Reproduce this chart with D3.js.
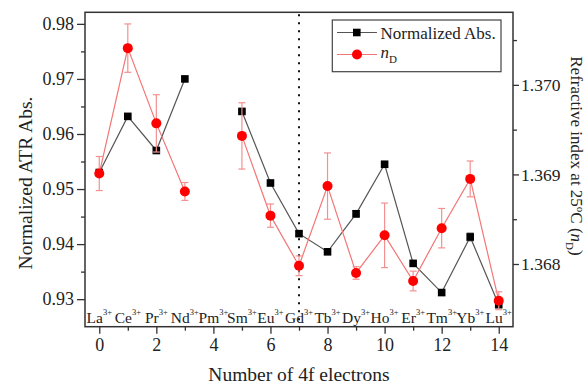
<!DOCTYPE html>
<html>
<head>
<meta charset="utf-8">
<script src="https://cdn.jsdelivr.net/npm/d3@7/dist/d3.min.js"></script>
<style>
  html, body { margin: 0; padding: 0; background: #fff; }
  svg { display: block; font-family: "Liberation Serif", "Times New Roman", serif; }
</style>
</head>
<body>
<svg id="chart" width="588" height="385"></svg>
<script>
// Lanthanide ions and their number of 4f electrons
const ions = ["La", "Ce", "Pr", "Nd", "Pm", "Sm", "Eu", "Gd", "Tb", "Dy", "Ho", "Er", "Tm", "Yb", "Lu"];
const electrons = [0, 1, 2, 3, 4, 5, 6, 7, 8, 9, 10, 11, 12, 13, 14];

// Normalized ATR absorbance (left axis); Pm has no measurement
const absValues = [0.9530, 0.9632, 0.9570, 0.9700, null, 0.9641, 0.9511, 0.9419, 0.9386, 0.9455, 0.9545, 0.9365, 0.9312, 0.9413, 0.9290];
const absErrors = [0, 0.0003, 0.0003, 0, null, 0.0003, 0, 0.0004, 0, 0.0006, 0.0005, 0, 0, 0.0007, 0];

// Refractive index n_D at 25 °C (right axis)
const ndValues = [1.36901, 1.37041, 1.36957, 1.36881, null, 1.36943, 1.36854, 1.36798, 1.36887, 1.36790, 1.36832, 1.36781, 1.36840, 1.36895, 1.36759];
const ndErrors = [0.00019, 0.00027, 0.00032, 0.00010, null, 0.00037, 0.00013, 0.00011, 0.00037, 0.00007, 0.00036, 0.00011, 0.00022, 0.00020, 0.00010];

// Tick values
const xTicks = [0, 2, 4, 6, 8, 10, 12, 14];
const xMinorTicks = [1, 3, 5, 7, 9, 11, 13];
const leftTicks = [0.93, 0.94, 0.95, 0.96, 0.97, 0.98];
const leftMinorTicks = [0.935, 0.945, 0.955, 0.965, 0.975];
const rightTicks = [1.368, 1.369, 1.370];
const rightMinorTicks = [1.3685, 1.3695, 1.3705];

const svg = d3.select("#chart");
const plot = { left: 85, right: 513, top: 12.3, bottom: 326.7 };

const x = d3.scaleLinear().domain([-0.5, 14.5]).range([plot.left, plot.right]);
const yL = d3.scaleLinear().domain([0.925, 0.9821]).range([plot.bottom, plot.top]);
const yR = d3.scaleLinear().domain([1.3673, 1.37081]).range([plot.bottom, plot.top]);

const axisColor = "#333";
const blackLine = "#555";
const redLine = "#f47676";
const redBar = "#f39090";

// Frame
svg.append("rect")
  .attr("x", plot.left).attr("y", plot.top)
  .attr("width", plot.right - plot.left).attr("height", plot.bottom - plot.top)
  .attr("fill", "none").attr("stroke", axisColor).attr("stroke-width", 1.5);

function styleAxis(g, size) {
  g.attr("font-family", null);
  g.select(".domain").remove();
  g.selectAll(".tick line").attr("stroke", axisColor).attr("stroke-width", 1.3);
  g.selectAll(".tick text").attr("fill", "#222").attr("font-size", size);
}

// Bottom axis
svg.append("g").attr("transform", `translate(0,${plot.bottom})`)
  .call(d3.axisBottom(x).tickValues(xMinorTicks).tickSize(4).tickFormat(""))
  .call(g => styleAxis(g, 18));
svg.append("g").attr("transform", `translate(0,${plot.bottom})`)
  .call(d3.axisBottom(x).tickValues(xTicks).tickSize(7).tickPadding(5).tickFormat(d3.format("d")))
  .call(g => styleAxis(g, 18));

// Left axis
svg.append("g").attr("transform", `translate(${plot.left},0)`)
  .call(d3.axisLeft(yL).tickValues(leftMinorTicks).tickSize(4).tickFormat(""))
  .call(g => styleAxis(g, 18));
svg.append("g").attr("transform", `translate(${plot.left},0)`)
  .call(d3.axisLeft(yL).tickValues(leftTicks).tickSize(8).tickPadding(3).tickFormat(d3.format(".2f")))
  .call(g => styleAxis(g, 18));

// Right axis
svg.append("g").attr("transform", `translate(${plot.right},0)`)
  .call(d3.axisRight(yR).tickValues(rightMinorTicks).tickSize(4).tickFormat(""))
  .call(g => styleAxis(g, 18));
svg.append("g").attr("transform", `translate(${plot.right},0)`)
  .call(d3.axisRight(yR).tickValues(rightTicks).tickSize(6).tickPadding(2).tickFormat(d3.format(".3f")))
  .call(g => styleAxis(g, 17.5));

// Dotted separator at Gd (half-filled 4f shell)
svg.append("line")
  .attr("x1", x(7)).attr("x2", x(7))
  .attr("y1", plot.top + 2).attr("y2", plot.bottom)
  .attr("stroke", "#111").attr("stroke-width", 2).attr("stroke-dasharray", "2,6");

// Ion labels along the bottom of the plot
const ionLabels = svg.append("g").attr("font-size", 15.5).attr("fill", "#222");
ions.forEach((ion, i) => {
  const t = ionLabels.append("text")
    .attr("x", x(electrons[i])).attr("y", plot.bottom - 4)
    .attr("text-anchor", "middle");
  t.append("tspan").text(ion);
  t.append("tspan").attr("font-size", 8.5).attr("dy", -8).text("3+");
});

const absData = electrons.map((e, i) => ({ e, v: absValues[i], err: absErrors[i] }));
const ndData = electrons.map((e, i) => ({ e, v: ndValues[i], err: ndErrors[i] }));

function drawErrorBars(data, y, color) {
  const g = svg.append("g").attr("stroke", color).attr("stroke-width", 1.2);
  data.filter(d => d.v != null && d.err > 0).forEach(d => {
    const cx = x(d.e), top = y(d.v + d.err), bot = y(d.v - d.err);
    g.append("line").attr("x1", cx).attr("x2", cx).attr("y1", top).attr("y2", bot);
    g.append("line").attr("x1", cx - 3.5).attr("x2", cx + 3.5).attr("y1", top).attr("y2", top);
    g.append("line").attr("x1", cx - 3.5).attr("x2", cx + 3.5).attr("y1", bot).attr("y2", bot);
  });
}

// Normalized absorbance series
const lineAbs = d3.line().defined(d => d.v != null).x(d => x(d.e)).y(d => yL(d.v));
svg.append("path").datum(absData).attr("d", lineAbs)
  .attr("fill", "none").attr("stroke", blackLine).attr("stroke-width", 1.2);
drawErrorBars(absData, yL, "#666");
svg.append("g").selectAll("rect").data(absData.filter(d => d.v != null)).join("rect")
  .attr("x", d => x(d.e) - 3.8).attr("y", d => yL(d.v) - 3.8)
  .attr("width", 7.6).attr("height", 7.6).attr("fill", "#000");

// Refractive index series
const lineNd = d3.line().defined(d => d.v != null).x(d => x(d.e)).y(d => yR(d.v));
svg.append("path").datum(ndData).attr("d", lineNd)
  .attr("fill", "none").attr("stroke", redLine).attr("stroke-width", 1.2);
drawErrorBars(ndData, yR, redBar);
svg.append("g").selectAll("circle").data(ndData.filter(d => d.v != null)).join("circle")
  .attr("cx", d => x(d.e)).attr("cy", d => yR(d.v)).attr("r", 5)
  .attr("fill", "#ff0000");

// Legend
const legend = svg.append("g");
legend.append("rect").attr("x", 332.3).attr("y", 20).attr("width", 168.7).attr("height", 51.7)
  .attr("fill", "#fff").attr("stroke", "#444").attr("stroke-width", 1.2);
legend.append("line").attr("x1", 337).attr("x2", 377).attr("y1", 32.5).attr("y2", 32.5)
  .attr("stroke", blackLine).attr("stroke-width", 1.2);
legend.append("rect").attr("x", 353).attr("y", 28.7).attr("width", 7.6).attr("height", 7.6).attr("fill", "#000");
legend.append("text").attr("x", 380.5).attr("y", 38.5).attr("font-size", 17).attr("fill", "#222")
  .text("Normalized Abs.");
legend.append("line").attr("x1", 337).attr("x2", 377).attr("y1", 54.5).attr("y2", 54.5)
  .attr("stroke", redLine).attr("stroke-width", 1.2);
legend.append("circle").attr("cx", 357).attr("cy", 54.5).attr("r", 5).attr("fill", "#ff0000");
const ndLegend = legend.append("text").attr("x", 380.5).attr("y", 58).attr("font-size", 17).attr("fill", "#222");
ndLegend.append("tspan").attr("font-style", "italic").text("n");
ndLegend.append("tspan").attr("font-size", 11).attr("dy", 5).text("D");

// Axis titles
svg.append("text")
  .attr("transform", "translate(32,183) rotate(-90)")
  .attr("text-anchor", "middle").attr("font-size", 19.5).attr("fill", "#222")
  .text("Normalized ATR Abs.");

svg.append("text")
  .attr("x", 299).attr("y", 381)
  .attr("text-anchor", "middle").attr("font-size", 19.5).attr("fill", "#222")
  .text("Number of 4f electrons");

const rightTitle = svg.append("text")
  .attr("transform", "translate(571,156) rotate(90)")
  .attr("text-anchor", "middle").attr("font-size", 17).attr("fill", "#222");
rightTitle.append("tspan").text("Refractive index at 25");
rightTitle.append("tspan").attr("font-size", 11).attr("dy", -6).text("o");
rightTitle.append("tspan").attr("dy", 6).text("C (");
rightTitle.append("tspan").attr("font-style", "italic").text("n");
rightTitle.append("tspan").attr("font-size", 11).attr("dy", 5).text("D");
rightTitle.append("tspan").attr("dy", -5).text(")");
</script>
</body>
</html>
